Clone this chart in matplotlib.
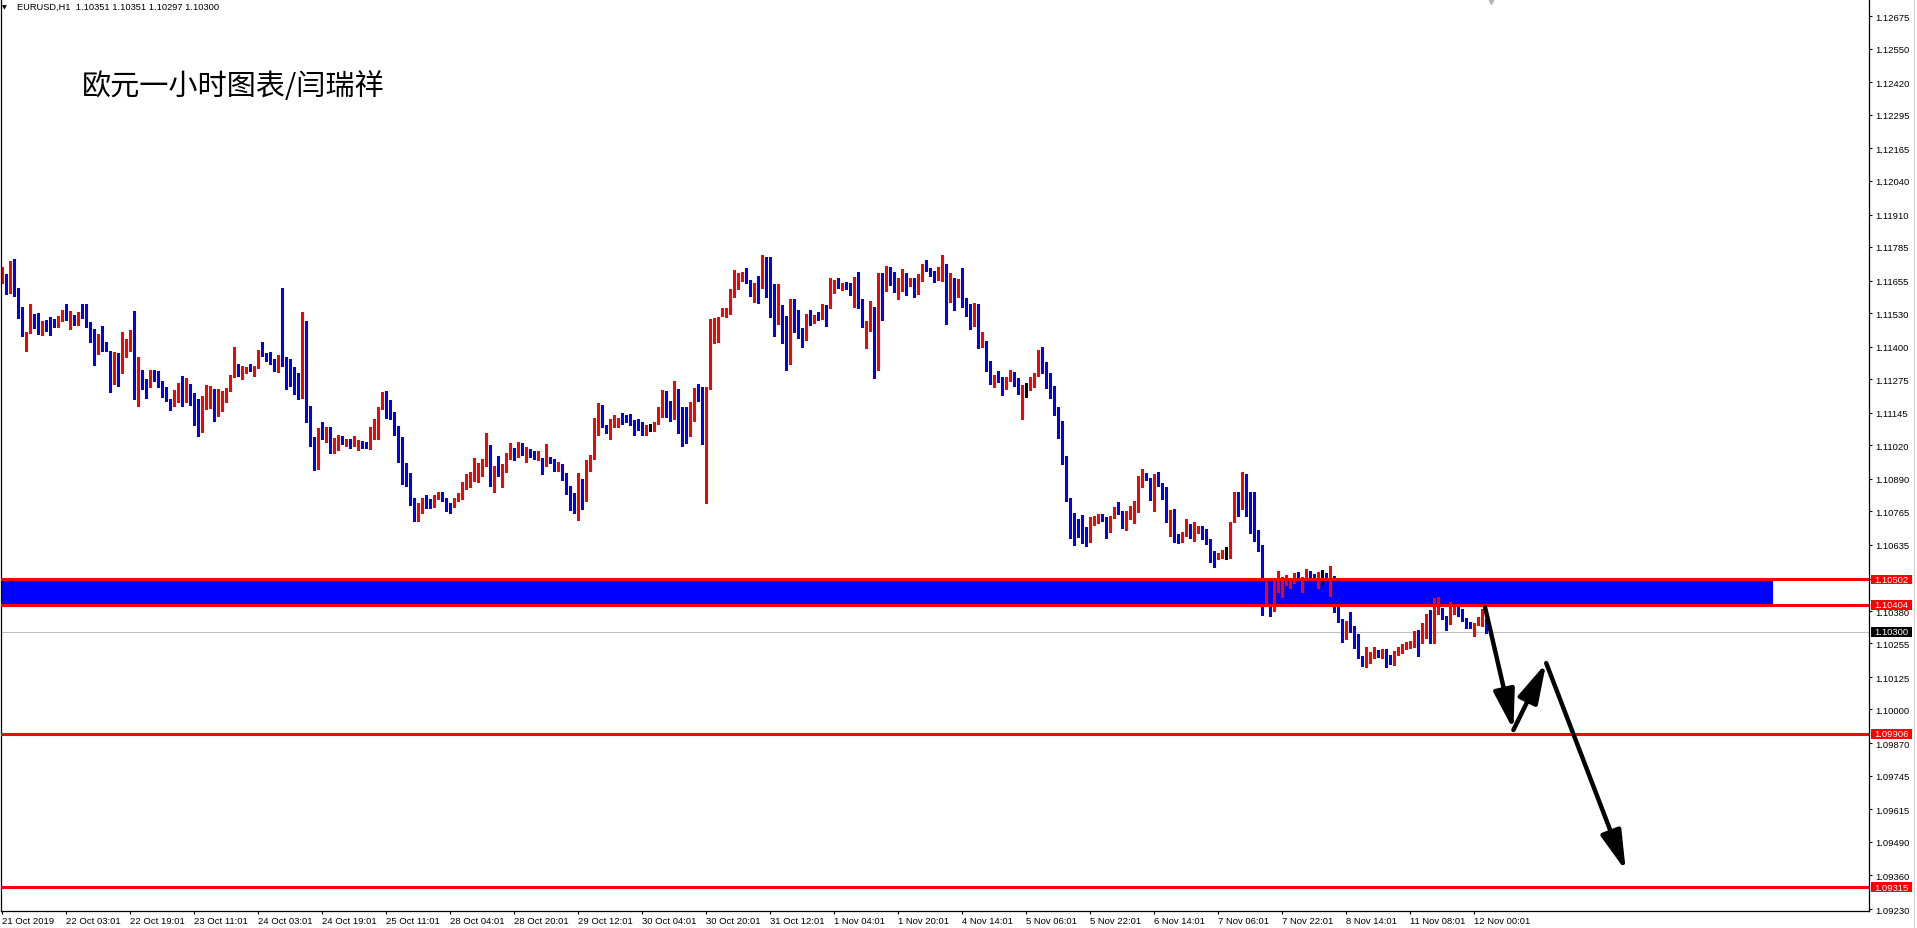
import numpy as np
import matplotlib.pyplot as plt
from matplotlib.patches import Rectangle
from matplotlib.transforms import blended_transform_factory

plt.rcParams['font.family'] = ['Liberation Sans', 'DejaVu Sans']

# EURUSD H1 candles, in pips above 1.1000
open_pips = [
    166.7, 167.4, 161.6, 168.8, 160.3, 155.4, 145.1, 145.4, 152.0, 150.3,
    145.4, 149.4, 148.0, 150.7, 149.2, 151.1, 153.0, 151.1, 151.3, 148.7,
    153.0, 152.6, 149.4, 144.4, 141.5, 143.2, 141.9, 138.4, 127.4, 132.9,
    130.0, 136.1, 140.0, 144.9, 123.4, 131.0, 124.7, 126.2, 131.0, 128.8,
    126.9, 122.4, 119.5, 117.5, 120.9, 126.0, 120.7, 125.2, 117.9, 111.7,
    108.0, 119.2, 120.7, 123.1, 117.9, 118.8, 120.7, 123.7, 128.6, 132.4,
    129.9, 130.6, 132.7, 131.4, 132.1, 138.5, 137.2, 135.8, 133.7, 131.8,
    134.9, 133.0, 132.2, 129.1, 128.5, 120.1, 150.1, 115.3, 104.9, 96.7,
    107.6, 106.0, 108.8, 99.4, 104.0, 104.6, 103.1, 103.6, 101.8, 101.8,
    103.3, 102.7, 101.8, 107.6, 109.9, 116.2, 120.2, 114.6, 114.0, 106.9,
    99.0, 93.4, 90.5, 81.2, 73.5, 75.8, 80.8, 80.8, 80.2, 81.6,
    83.4, 81.5, 79.0, 78.6, 81.0, 82.5, 86.6, 89.2, 89.6, 90.8,
    91.8, 94.7, 97.7, 86.6, 93.2, 90.3, 93.0, 98.0, 101.0, 98.3,
    102.7, 98.6, 100.2, 98.3, 96.7, 97.1, 94.1, 96.7, 95.8, 92.8,
    94.4, 91.2, 84.1, 79.3, 75.9, 89.0, 80.6, 94.1, 98.0, 106.4,
    117.2, 109.8, 106.7, 109.3, 110.5, 111.8, 112.5, 112.1, 111.8, 110.0,
    108.7, 108.2, 108.5, 108.3, 110.2, 114.1, 120.2, 116.8, 112.1, 121.3,
    114.0, 113.6, 108.6, 111.4, 123.8, 120.2, 105.3, 124.0, 141.7, 148.5,
    152.2, 152.6, 152.6, 161.2, 166.2, 167.0, 167.8, 165.1, 160.1, 164.2,
    162.6, 173.2, 167.6, 156.5, 149.4, 152.2, 144.9, 141.3, 154.9, 151.8,
    147.2, 144.9, 152.2, 150.0, 151.6, 151.1, 155.8, 155.4, 163.9, 164.8,
    163.8, 164.2, 162.6, 162.4, 163.1, 158.1, 148.1, 148.7, 154.9, 132.7,
    167.0, 162.0, 170.3, 168.3, 161.6, 162.6, 167.6, 165.1, 166.1, 160.7,
    166.4, 170.9, 170.0, 168.5, 166.7, 168.5, 171.6, 162.0, 165.1, 162.2,
    163.9, 156.8, 155.2, 148.5, 156.5, 140.6, 141.3, 133.5, 126.3, 128.8,
    128.2, 124.6, 127.5, 129.5, 126.1, 122.8, 124.1, 124.1, 126.5, 129.1,
    135.3, 133.3, 129.9, 122.1, 115.6, 109.9, 97.3, 81.6, 75.5, 70.1,
    68.4, 67.7, 64.8, 71.6, 73.5, 75.1, 73.8, 68.6, 74.4, 77.4,
    76.1, 70.3, 75.5, 78.0, 78.7, 89.9, 90.9, 88.7, 82.5, 90.2,
    87.1, 81.7, 72.9, 77.0, 67.4, 66.4, 67.1, 68.2, 66.4, 68.7,
    69.7, 68.2, 64.8, 60.4, 58.1, 58.6, 61.0, 61.0, 72.5, 82.2,
    77.4, 89.0, 77.4, 76.4, 65.8, 63.5, 44.0, 44.5, 39.5, 45.5,
    47.8, 48.5, 49.1, 49.1, 52.7, 47.2, 51.0, 53.6, 52.1, 47.8,
    52.3, 52.3, 50.7, 51.3, 38.8, 34.5, 30.2, 32.6, 30.7, 28.9,
    20.4, 16.9, 19.5, 20.8, 22.3, 20.1, 22.1, 18.8, 17.6, 22.1,
    22.4, 23.6, 25.0, 25.3, 30.2, 27.2, 28.9, 37.9, 25.5, 37.5,
    38.4, 35.8, 33.6, 37.2, 39.0, 36.9, 34.9, 33.3, 32.0, 33.0,
    34.3, 35.1,
]
high_pips = [
    170.6, 168.0, 173.2, 173.8, 162.6, 155.4, 145.8, 156.5, 152.6, 153.2,
    150.0, 150.3, 151.3, 150.7, 152.0, 154.3, 156.5, 153.9, 152.2, 153.5,
    156.5, 156.5, 149.4, 146.8, 144.9, 148.1, 141.9, 138.4, 138.1, 137.5,
    145.6, 142.9, 146.4, 153.6, 135.9, 131.2, 127.5, 131.0, 131.2, 130.7,
    126.9, 124.6, 119.8, 123.4, 126.0, 128.8, 127.9, 125.6, 122.2, 119.8,
    121.1, 125.2, 125.0, 123.7, 123.7, 123.1, 124.1, 129.1, 139.9, 133.3,
    132.4, 132.3, 133.3, 132.6, 138.8, 142.0, 137.6, 137.8, 135.3, 136.8,
    162.7, 135.9, 135.3, 132.1, 129.9, 153.5, 150.1, 117.3, 105.1, 108.5,
    110.8, 109.0, 108.9, 104.6, 105.9, 105.4, 104.4, 104.4, 105.4, 104.1,
    103.7, 103.1, 108.9, 112.1, 116.7, 122.6, 123.0, 119.5, 114.9, 109.5,
    105.3, 95.3, 91.2, 81.8, 79.7, 81.8, 82.7, 81.2, 82.7, 84.0,
    83.8, 81.8, 79.7, 81.8, 83.5, 87.9, 90.8, 91.8, 96.9, 95.3,
    96.6, 106.7, 102.0, 93.8, 97.7, 94.8, 98.9, 102.7, 101.0, 103.1,
    102.7, 101.2, 100.4, 99.9, 99.7, 97.1, 102.5, 97.4, 96.5, 95.6,
    94.8, 91.2, 86.4, 83.5, 91.3, 89.0, 96.3, 98.3, 112.5, 118.2,
    117.5, 109.8, 112.1, 113.8, 112.5, 114.3, 113.8, 114.1, 111.8, 112.1,
    110.9, 109.6, 110.0, 110.9, 116.9, 123.3, 123.0, 119.2, 126.9, 123.7,
    116.8, 116.6, 118.6, 124.0, 125.6, 124.3, 124.6, 150.7, 151.1, 151.6,
    154.8, 154.9, 162.2, 169.7, 168.3, 168.7, 170.3, 165.7, 164.4, 167.3,
    175.4, 174.5, 174.7, 164.2, 164.2, 156.1, 152.0, 158.4, 158.4, 154.1,
    147.2, 152.6, 154.3, 152.3, 153.5, 156.5, 156.1, 166.5, 165.7, 166.5,
    164.4, 164.8, 164.4, 167.0, 168.7, 158.4, 149.8, 157.5, 155.2, 168.3,
    168.3, 171.2, 170.9, 168.7, 166.7, 170.0, 168.3, 166.7, 166.7, 168.0,
    171.9, 173.4, 170.3, 169.1, 170.9, 175.4, 171.9, 168.3, 166.7, 166.1,
    170.3, 158.8, 156.5, 156.7, 156.5, 145.5, 142.3, 134.5, 129.2, 130.5,
    128.4, 128.4, 131.0, 130.1, 127.9, 125.4, 126.0, 128.4, 129.9, 138.9,
    139.8, 134.1, 129.9, 125.0, 116.6, 111.2, 98.0, 81.6, 75.7, 73.5,
    75.1, 70.6, 74.4, 74.8, 75.5, 75.5, 74.2, 74.8, 78.0, 80.0,
    76.7, 76.5, 78.7, 80.6, 90.2, 92.8, 91.1, 89.3, 90.9, 91.8,
    87.4, 85.8, 76.8, 77.4, 67.8, 68.4, 73.5, 71.6, 72.3, 71.0,
    71.0, 69.7, 65.8, 61.0, 60.3, 61.7, 62.6, 72.5, 84.1, 83.8,
    91.6, 90.9, 83.8, 83.8, 69.4, 63.5, 49.8, 45.0, 49.4, 53.6,
    51.0, 52.0, 49.8, 52.6, 52.9, 51.0, 54.3, 53.6, 52.3, 53.0,
    53.9, 52.7, 55.4, 51.5, 39.4, 34.9, 34.3, 37.5, 32.4, 29.1,
    20.8, 24.0, 22.1, 24.2, 23.0, 23.3, 23.3, 21.2, 22.7, 24.0,
    25.3, 25.9, 26.6, 30.4, 30.7, 33.3, 36.9, 38.4, 43.0, 43.3,
    39.0, 36.2, 41.4, 39.4, 39.4, 38.8, 35.2, 33.6, 33.3, 35.6,
    38.8, 35.1,
]
low_pips = [
    164.4, 160.3, 160.6, 159.7, 151.1, 144.2, 138.4, 145.1, 147.2, 144.9,
    144.6, 145.9, 144.6, 147.5, 147.7, 149.8, 150.3, 146.8, 148.4, 148.4,
    151.1, 147.7, 141.9, 133.0, 137.2, 138.4, 138.2, 122.6, 125.6, 124.9,
    129.7, 135.9, 138.4, 119.8, 117.2, 123.7, 120.2, 124.6, 126.9, 124.6,
    120.7, 118.9, 115.7, 117.0, 118.6, 117.3, 118.6, 117.5, 109.8, 105.7,
    107.2, 116.0, 116.2, 111.5, 113.4, 115.0, 118.6, 123.1, 128.2, 128.8,
    127.6, 129.9, 130.8, 128.8, 131.7, 136.3, 134.5, 133.5, 130.8, 130.1,
    132.4, 123.7, 124.7, 121.8, 119.8, 120.1, 111.1, 101.8, 92.6, 92.8,
    104.4, 103.4, 99.0, 99.0, 100.1, 102.4, 101.8, 100.9, 101.5, 100.2,
    100.8, 101.1, 100.5, 104.4, 104.4, 115.9, 112.3, 112.1, 105.9, 95.6,
    87.0, 86.1, 78.9, 72.8, 72.8, 75.8, 77.9, 77.6, 78.0, 81.2,
    80.6, 76.7, 75.8, 78.0, 80.6, 81.2, 85.1, 85.7, 88.3, 87.9,
    90.0, 94.1, 86.3, 84.0, 90.0, 86.0, 91.6, 96.7, 96.3, 97.4,
    98.4, 95.7, 97.6, 96.7, 96.3, 90.9, 94.0, 95.0, 92.2, 92.0,
    88.6, 83.0, 77.0, 75.9, 73.2, 77.4, 80.6, 92.2, 96.7, 106.1,
    108.9, 106.7, 104.4, 108.9, 108.9, 110.2, 110.9, 109.6, 106.0, 107.9,
    106.0, 106.1, 107.4, 107.6, 110.0, 113.0, 112.7, 111.2, 112.1, 106.8,
    101.8, 102.8, 105.5, 111.4, 118.9, 102.4, 79.8, 123.7, 141.3, 141.9,
    152.0, 151.3, 152.6, 159.3, 162.2, 165.2, 164.4, 159.7, 157.4, 157.0,
    162.5, 159.3, 151.6, 144.2, 148.7, 141.3, 131.0, 133.3, 145.8, 143.3,
    140.0, 142.6, 148.5, 149.0, 150.3, 150.7, 148.1, 154.8, 160.7, 162.6,
    162.0, 162.2, 159.9, 155.2, 154.9, 147.7, 139.5, 146.2, 127.9, 131.0,
    150.3, 161.6, 163.9, 161.0, 158.4, 161.6, 160.1, 163.5, 159.3, 160.3,
    165.2, 169.1, 167.4, 164.8, 165.7, 165.5, 148.7, 157.4, 154.1, 159.3,
    155.2, 152.0, 146.8, 148.1, 139.5, 140.0, 130.7, 125.6, 124.6, 126.3,
    121.4, 123.7, 126.9, 125.0, 121.8, 112.1, 120.7, 123.3, 124.6, 128.8,
    129.7, 124.1, 120.2, 113.8, 104.8, 94.7, 80.6, 66.2, 63.6, 66.5,
    64.1, 63.1, 64.8, 71.2, 71.9, 72.9, 66.2, 68.6, 73.8, 75.5,
    70.1, 69.4, 73.5, 72.0, 76.1, 86.0, 88.6, 81.0, 76.7, 86.4,
    81.3, 72.5, 67.1, 64.8, 64.3, 64.8, 66.9, 66.1, 65.2, 68.2,
    65.8, 63.9, 56.8, 54.9, 57.9, 58.4, 57.9, 58.4, 72.3, 74.8,
    77.4, 74.8, 68.2, 64.9, 61.3, 36.3, 40.1, 36.0, 38.2, 45.3,
    43.3, 48.1, 46.8, 48.9, 47.0, 45.3, 50.1, 51.3, 50.7, 46.8,
    48.5, 50.4, 43.9, 37.5, 33.6, 25.9, 27.2, 29.8, 23.7, 19.9,
    16.8, 16.5, 17.8, 19.9, 20.1, 19.9, 16.3, 17.6, 17.3, 21.2,
    21.7, 23.3, 23.7, 24.0, 20.8, 25.5, 27.6, 25.5, 25.5, 36.9,
    35.0, 30.7, 33.0, 36.9, 36.2, 34.3, 31.5, 31.5, 28.5, 32.6,
    32.4, 29.7,
]
close_pips = [
    168.3, 161.6, 168.8, 160.1, 155.2, 144.9, 145.8, 152.0, 149.6, 145.1,
    149.6, 147.7, 147.5, 149.1, 151.6, 152.9, 150.7, 151.6, 148.7, 153.0,
    152.7, 149.2, 144.2, 141.5, 143.3, 141.5, 138.4, 127.4, 133.3, 130.0,
    136.3, 139.7, 144.9, 123.4, 131.0, 124.0, 124.4, 130.7, 128.8, 126.9,
    122.0, 119.2, 117.5, 121.1, 126.0, 120.9, 125.2, 117.8, 111.5, 108.0,
    119.5, 120.7, 123.1, 117.9, 119.1, 121.4, 124.1, 129.1, 132.4, 129.9,
    131.4, 132.3, 131.4, 132.6, 138.5, 136.8, 135.3, 133.7, 131.7, 134.9,
    133.3, 131.8, 128.6, 127.8, 120.1, 150.1, 115.0, 104.4, 96.7, 107.6,
    106.0, 108.8, 99.2, 103.7, 105.0, 102.7, 103.7, 101.8, 102.0, 103.1,
    102.4, 101.4, 107.8, 110.1, 116.7, 120.2, 114.0, 113.6, 106.3, 98.6,
    93.0, 90.0, 81.0, 73.5, 76.1, 81.2, 80.4, 78.6, 81.8, 83.5,
    81.0, 78.2, 78.0, 81.6, 82.7, 87.0, 89.3, 90.0, 91.2, 92.1,
    95.1, 97.7, 86.6, 93.2, 90.2, 93.2, 98.3, 101.0, 98.0, 102.5,
    98.6, 99.0, 98.0, 96.8, 97.1, 94.1, 97.1, 95.7, 93.1, 94.0,
    90.3, 83.6, 79.1, 76.0, 89.0, 80.6, 94.5, 98.3, 106.6, 117.2,
    109.2, 106.7, 109.8, 110.9, 111.8, 110.9, 111.8, 111.2, 109.4, 108.3,
    107.6, 108.9, 108.5, 110.5, 114.3, 120.2, 116.8, 112.1, 121.3, 113.8,
    113.0, 108.6, 111.7, 123.8, 119.8, 105.3, 124.3, 142.9, 148.7, 151.6,
    152.6, 153.0, 161.6, 166.5, 167.4, 167.8, 164.8, 160.1, 164.2, 162.6,
    173.4, 167.4, 156.2, 149.6, 152.3, 144.2, 141.3, 155.4, 151.1, 146.6,
    144.6, 152.3, 150.3, 152.0, 150.7, 155.8, 155.4, 164.2, 165.2, 163.8,
    164.2, 162.5, 162.0, 163.1, 157.7, 148.1, 149.2, 154.9, 132.7, 167.0,
    162.0, 170.6, 167.8, 161.6, 162.9, 167.6, 163.1, 166.1, 160.7, 166.5,
    171.0, 169.6, 168.0, 167.0, 168.7, 171.9, 162.0, 165.1, 162.2, 163.9,
    156.5, 154.9, 148.1, 156.5, 140.4, 141.0, 133.3, 126.2, 128.8, 127.9,
    124.6, 127.9, 129.2, 126.1, 122.8, 124.7, 124.1, 126.9, 129.1, 135.3,
    133.3, 129.7, 121.8, 115.6, 109.5, 96.7, 81.2, 74.8, 69.7, 67.7,
    67.4, 64.8, 72.3, 73.5, 74.8, 73.5, 68.6, 74.6, 77.4, 76.1,
    70.3, 75.7, 78.0, 78.7, 89.6, 91.5, 88.7, 82.5, 89.9, 86.8,
    81.5, 72.9, 76.8, 67.1, 66.4, 67.4, 68.2, 66.4, 69.1, 69.4,
    67.8, 64.5, 60.4, 58.1, 59.3, 61.2, 61.0, 72.5, 82.2, 77.4,
    88.7, 77.4, 75.9, 65.4, 63.3, 44.0, 45.5, 39.5, 45.9, 48.1,
    48.9, 49.8, 49.5, 52.3, 47.5, 51.0, 53.6, 51.7, 51.0, 52.7,
    52.3, 50.7, 51.3, 37.9, 34.0, 30.4, 32.6, 30.2, 28.8, 20.4,
    16.9, 19.9, 21.2, 22.3, 21.2, 22.3, 17.9, 17.8, 22.4, 23.1,
    24.0, 25.3, 25.9, 29.8, 27.2, 30.2, 33.0, 25.5, 38.1, 38.4,
    35.6, 34.3, 39.0, 39.0, 37.1, 34.7, 32.7, 32.7, 33.0, 34.9,
    35.6, 30.0,
]

# one x-axis label every 16 bars
time_labels = ['21 Oct 2019', '22 Oct 03:01', '22 Oct 19:01', '23 Oct 11:01', '24 Oct 03:01',
               '24 Oct 19:01', '25 Oct 11:01', '28 Oct 04:01', '28 Oct 20:01', '29 Oct 12:01',
               '30 Oct 04:01', '30 Oct 20:01', '31 Oct 12:01', '1 Nov 04:01', '1 Nov 20:01',
               '4 Nov 14:01', '5 Nov 06:01', '5 Nov 22:01', '6 Nov 14:01', '7 Nov 06:01',
               '7 Nov 22:01', '8 Nov 14:01', '11 Nov 08:01', '12 Nov 00:01']
price_ticks = [1.12675, 1.12550, 1.12420, 1.12295, 1.12165, 1.12040, 1.11910, 1.11785,
               1.11655, 1.11530, 1.11400, 1.11275, 1.11145, 1.11020, 1.10890, 1.10765,
               1.10635, 1.10505, 1.10380, 1.10255, 1.10125, 1.10000, 1.09870, 1.09745,
               1.09615, 1.09490, 1.09360, 1.09230]

levels = [1.10502, 1.10404, 1.09906, 1.09315]
zone_low, zone_high = 1.10404, 1.10502
zone_start, zone_end = -5, 442.6
bid = 1.10300
shift_bar = 372.2
header = 'EURUSD,H1  1.10351 1.10351 1.10297 1.10300'
title = '欧元一小时图表/闫瑞祥'

# forecast path drawn with arrows (bar index, price)
path_x = [370.7, 377.8, 386.0, 405.9]
path_y = [1.10395, 1.09921, 1.10179, 1.09377]

o = 1.1 + np.array(open_pips) / 1e4
h = 1.1 + np.array(high_pips) / 1e4
l = 1.1 + np.array(low_pips) / 1e4
c = 1.1 + np.array(close_pips) / 1e4
x = np.arange(len(o))

RED = '#FF0000'
BLUE = '#0000FF'
colors = np.where(c > o, RED, np.where(c < o, BLUE, 'black'))

W, H = 1917, 929
fig = plt.figure(figsize=(W / 100, H / 100), dpi=100)
ax = fig.add_axes([1 / W, 17 / H, 1868 / W, 912 / H])
ax.set_xlim(-0.325, 466.7)
ax.set_ylim(1.092224, 1.127418)
px = (1.127418 - 1.092224) / 912  # one pixel in price

# zone and levels
ax.add_patch(Rectangle((zone_start, zone_low), zone_end - zone_start, zone_high - zone_low,
                       facecolor=BLUE, edgecolor='none', zorder=1))
ax.axhline(bid, color='#C0C0C0', lw=0.75, zorder=1.5)

# candles
ax.vlines(x, l, h, colors=colors, lw=0.9, antialiased=False, zorder=2)
body_lo = np.minimum(o, c)
body_h = np.maximum(np.abs(c - o), px)
ax.bar(x, body_h, bottom=body_lo, width=0.78, color=colors, linewidth=0,
       antialiased=False, zorder=2.1)

for lv in levels:
    ax.axhline(lv, color=RED, lw=2.2, zorder=3)

# arrows
for i in range(len(path_x) - 1):
    ax.annotate('', xy=(path_x[i + 1], path_y[i + 1]), xytext=(path_x[i], path_y[i]),
                arrowprops=dict(arrowstyle='-|>,head_length=1.5,head_width=0.4',
                                lw=3.2, color='black', shrinkA=0, shrinkB=0,
                                mutation_scale=16), zorder=4)

# chart shift marker
ax.plot([shift_bar], [1.127418], marker='v', ms=7, color='#B4B4B4', clip_on=False,
        zorder=5)

# axes styling
ax.spines['top'].set_visible(False)
for s in ['left', 'right', 'bottom']:
    ax.spines[s].set_linewidth(0.9)
ax.yaxis.tick_right()
ax.set_yticks(price_ticks)
ax.set_yticklabels(['%.5f' % p for p in price_ticks])
ax.tick_params(axis='y', direction='out', length=2.5, width=0.8, labelsize=6.8, pad=2)
ax.set_xticks(np.arange(len(time_labels)) * 16)
ax.set_xticklabels(time_labels)
ax.tick_params(axis='x', direction='out', length=2.5, width=0.8, labelsize=6.8, pad=1.2)
for lbl in ax.get_xticklabels():
    lbl.set_horizontalalignment('left')

# price boxes on the axis
bt = blended_transform_factory(fig.transFigure, ax.transData)
for lv, col in [(levels[0], RED), (levels[1], RED), (levels[2], RED), (levels[3], RED),
                (bid, 'black')]:
    fig.add_artist(Rectangle((1871 / W, lv - 4.8 * px), 41 / W, 9.6 * px, transform=bt,
                             facecolor=col, edgecolor='none', zorder=5))
    fig.text(1891.5 / W, lv, '%.5f' % lv, transform=bt, color='white', fontsize=6.8,
             ha='center', va='center', zorder=6)

# far right grey edge
fig.add_artist(plt.Line2D([1913.5 / W, 1913.5 / W], [0, 1], color='#D4D4D4', lw=0.8))

# header and title
fig.text(2 / W, 1 - 7.5 / H, '▼', fontsize=4.5, family='DejaVu Sans', va='center')
fig.text(17 / W, 1 - 7.5 / H, header, fontsize=6.7, va='center')
fig.text(82 / W, 1 - 87 / H, title, fontsize=21, fontweight='light',
         family=['Noto Sans CJK SC', 'DejaVu Sans'], va='center')

fig.savefig('out.png', dpi=100)
